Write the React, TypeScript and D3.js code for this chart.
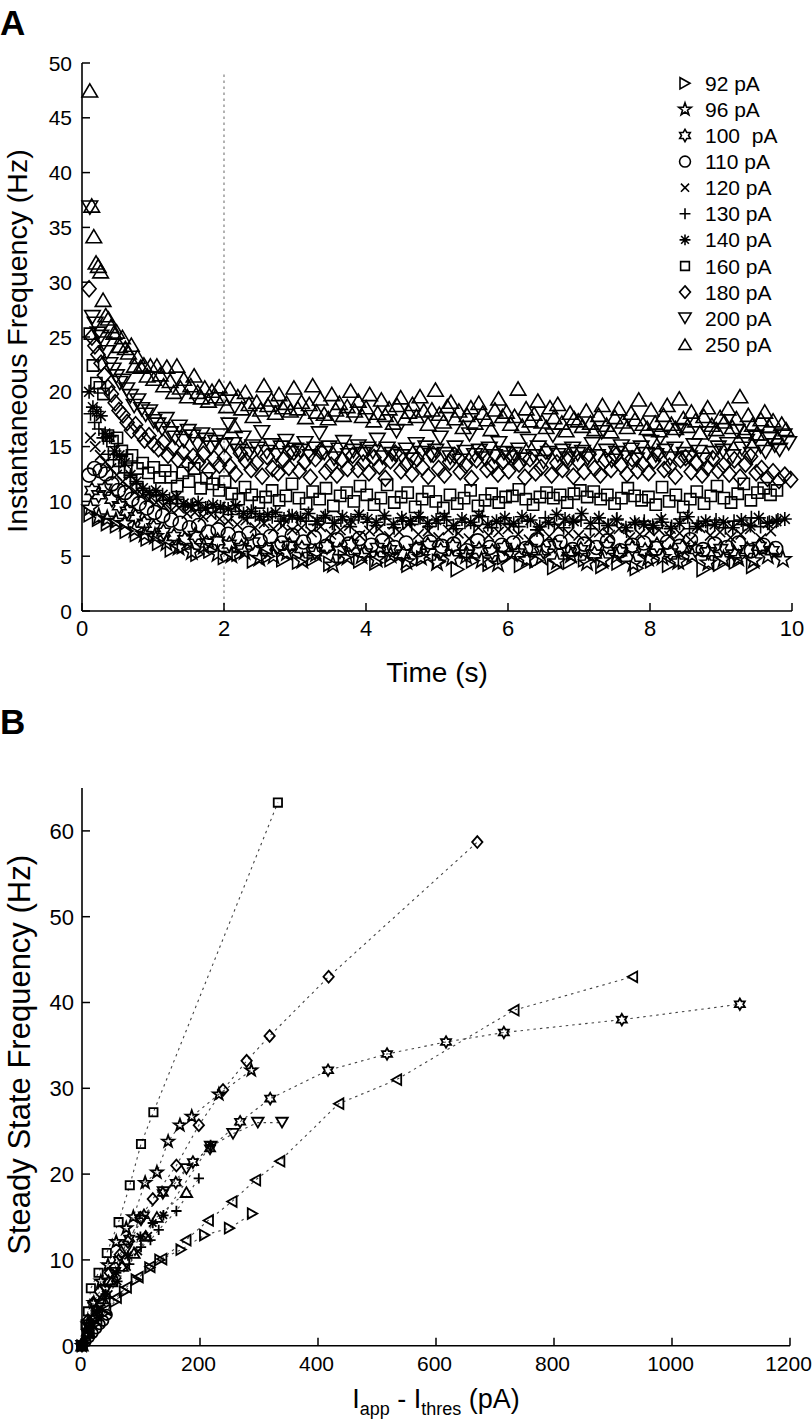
import React from 'react';
import * as d3 from 'd3';

// ---------------- Panel A data (instantaneous frequency, Hz; one value per spike) ----------------
const legendLabels = ['92 pA', '96 pA', '100  pA', '110 pA', '120 pA', '130 pA', '140 pA', '160 pA', '180 pA', '200 pA', '250 pA'];
const legendMarkers = ['right', 'pent', 'hex', 'circle', 'x', 'plus', 'star', 'square', 'diamond', 'down', 'up'];
// time of first plotted spike (s)
const firstSpike = [0.12, 0.12, 0.14, 0.1, 0.12, 0.12, 0.1, 0.11, 0.1, 0.11, 0.11];

const f92 = [8.8, 8.4, 8.0, 7.8, 7.3, 7.0, 6.6, 6.2, 5.6, 5.9, 5.2, 5.5, 4.9, 5.2, 4.6, 5.0, 4.7, 4.5, 4.8, 4.3, 4.9, 4.6, 4.4, 4.7, 4.2, 4.8, 4.5, 3.8, 4.6, 4.3, 4.9, 4.2, 4.6, 4.0, 4.5, 4.7, 4.1, 4.4, 3.9, 4.6, 4.2, 4.5, 3.8, 4.3, 4.5, 4.1];
const f96 = [9.4, 8.6, 8.4, 8.2, 8.0, 7.4, 7.0, 6.8, 6.2, 5.8, 5.4, 5.9, 5.2, 5.1, 5.4, 4.8, 5.0, 5.3, 4.6, 5.2, 4.2, 4.9, 5.0, 4.7, 5.1, 4.5, 4.9, 4.4, 4.8, 5.0, 4.6, 4.3, 5.2, 4.7, 4.9, 4.5, 5.1, 4.4, 4.6, 5.0, 4.3, 4.8, 4.9, 4.5, 5.1, 4.4, 4.7, 4.8, 4.6, 5.0, 4.7];
const f100 = [11.0, 10.6, 11.2, 10.2, 9.6, 9.1, 8.6, 8.0, 7.6, 7.2, 6.8, 6.5, 6.9, 6.2, 6.4, 6.1, 5.8, 6.3, 5.6, 5.9, 6.0, 5.7, 5.4, 5.9, 5.5, 6.1, 5.3, 5.8, 5.6, 5.2, 5.7, 6.0, 5.5, 5.9, 5.2, 5.6, 5.4, 5.8, 5.3, 5.7, 5.5, 6.0, 5.4, 5.6, 5.2, 5.9, 5.4, 5.7, 5.5, 6.0, 5.3, 5.8, 5.6, 5.4, 5.7, 5.2, 5.6, 5.9, 5.5];
const f110 = [12.4, 13.0, 12.8, 12.5, 11.6, 11.0, 10.8, 10.2, 9.8, 9.4, 9.0, 8.7, 8.3, 8.0, 7.6, 7.8, 7.2, 7.4, 7.0, 6.6, 7.1, 6.4, 6.8, 6.2, 6.9, 6.3, 6.7, 5.9, 6.5, 6.1, 6.6, 6.0, 6.4, 5.8, 6.2, 5.6, 6.3, 5.9, 6.1, 5.5, 6.4, 5.8, 6.0, 6.2, 5.7, 6.5, 5.9, 6.3, 5.6, 6.1, 5.8, 6.4, 5.5, 6.0, 6.2, 5.7, 6.3, 5.9, 6.5, 5.6, 6.1, 5.8, 6.2, 5.5, 6.0, 5.7];
const f120 = [15.8, 15.0, 14.2, 13.6, 13.0, 12.4, 11.8, 11.3, 10.9, 10.6, 10.2, 9.9, 9.6, 9.2, 9.4, 8.9, 9.0, 8.6, 8.8, 8.4, 8.2, 7.9, 8.3, 7.6, 8.0, 7.5, 7.8, 7.4, 7.6, 7.2, 7.7, 7.0, 7.4, 7.8, 6.9, 7.3, 7.5, 6.8, 7.2, 7.9, 7.0, 7.3, 6.7, 7.4, 7.1, 6.6, 7.6, 6.9, 7.2, 7.5, 7.0, 6.5, 7.3, 6.8, 7.7, 7.1, 6.9, 6.6, 7.2, 6.9, 7.5, 6.7, 7.0, 7.3, 7.4, 6.8, 7.1, 6.5, 7.6, 6.9, 7.2, 6.7, 7.0, 7.5, 6.6, 7.3];
const f130 = [18.0, 17.2, 16.6, 15.8, 14.3, 13.8, 13.2, 12.6, 12.2, 11.6, 11.0, 10.6, 10.5, 10.1, 9.8, 10.2, 9.5, 9.7, 9.2, 9.4, 9.0, 9.3, 8.8, 9.1, 8.5, 8.9, 8.3, 8.6, 8.2, 8.7, 8.4, 8.2, 7.9, 8.5, 8.0, 8.3, 7.7, 8.6, 8.1, 7.8, 8.4, 7.6, 8.2, 7.9, 8.5, 7.7, 8.0, 8.3, 7.5, 8.1, 7.8, 8.6, 7.6, 8.0, 7.9, 7.7, 8.2, 7.4, 8.5, 7.9, 7.6, 8.1, 8.3, 7.5, 8.0, 7.8, 8.4, 7.3, 7.9, 8.2, 7.6, 8.1, 7.7, 8.4, 7.5, 8.0, 7.8, 8.3, 7.6, 8.2, 7.9, 8.5, 7.7, 8.1, 8.3];
const f140 = [20.0, 18.6, 18.2, 17.8, 16.2, 15.9, 14.6, 14.2, 13.5, 12.4, 11.8, 11.2, 10.8, 11.0, 10.6, 10.2, 10.4, 9.8, 9.6, 9.9, 9.4, 9.7, 9.5, 9.3, 9.6, 8.9, 9.1, 8.6, 8.8, 9.0, 8.4, 8.7, 8.5, 8.9, 8.2, 8.7, 8.0, 8.6, 8.3, 8.8, 8.4, 8.1, 8.7, 7.9, 8.5, 8.2, 8.6, 8.0, 8.3, 8.6, 7.8, 8.4, 8.1, 8.7, 7.9, 8.2, 8.5, 8.0, 8.6, 8.3, 7.7, 8.1, 8.8, 8.4, 8.2, 8.9, 8.0, 8.5, 7.8, 8.3, 7.6, 8.1, 7.9, 7.8, 8.4, 7.5, 8.0, 8.6, 7.7, 8.2, 7.9, 8.1, 7.6, 8.3, 7.8, 8.5, 8.0, 8.2, 8.4];
const f160 = [25.3, 22.4, 20.8, 20.4, 19.8, 16.0, 15.5, 15.8, 14.6, 13.8, 14.2, 13.0, 13.5, 12.6, 13.1, 12.2, 12.8, 12.2, 11.4, 12.6, 11.8, 13.0, 11.2, 12.1, 11.6, 11.0, 11.8, 10.7, 10.2, 11.3, 10.6, 9.9, 10.4, 11.0, 10.1, 10.5, 11.6, 10.3, 9.8, 10.9, 10.2, 11.2, 9.6, 10.5, 10.8, 10.0, 11.4, 10.6, 9.7, 10.3, 11.5, 9.9, 10.4, 10.8, 9.5, 10.2, 10.9, 10.0, 9.4, 10.6, 9.8, 10.3, 11.0, 9.6, 10.1, 10.7, 9.9, 10.4, 10.5, 11.1, 10.2, 9.7, 10.4, 10.8, 10.3, 10.6, 9.9, 10.7, 11.0, 10.4, 10.9, 10.2, 10.6, 9.8, 10.3, 11.2, 10.5, 10.1, 10.4, 9.7, 11.3, 10.0, 10.6, 9.5, 10.2, 10.9, 9.8, 10.5, 11.4, 10.3, 9.9, 10.7, 11.6, 10.1, 10.8, 11.2, 10.6, 11.0];
const f180 = [29.4, 25.0, 24.2, 23.4, 22.6, 21.5, 20.4, 19.8, 19.0, 18.3, 17.9, 17.2, 16.5, 17.0, 16.2, 15.6, 16.0, 15.2, 14.8, 15.4, 14.2, 14.9, 13.8, 14.5, 13.4, 14.1, 13.6, 14.3, 12.8, 13.9, 13.3, 14.0, 13.2, 12.5, 14.4, 13.7, 12.9, 13.5, 12.3, 14.1, 13.0, 12.6, 13.8, 13.1, 14.5, 12.8, 13.6, 12.2, 13.9, 14.6, 12.7, 13.3, 12.4, 13.8, 13.0, 14.2, 12.9, 13.5, 12.6, 14.0, 13.2, 12.1, 13.7, 14.4, 12.8, 13.4, 12.5, 13.9, 13.1, 12.3, 14.3, 13.0, 12.4, 13.6, 14.2, 12.7, 13.3, 12.1, 13.8, 14.5, 12.9, 13.2, 12.5, 13.7, 12.8, 14.1, 13.4, 12.2, 13.9, 12.6, 13.1, 14.6, 12.4, 13.5, 12.9, 13.7, 12.3, 13.6, 12.7, 14.3, 13.0, 12.4, 13.8, 12.9, 14.2, 13.3, 12.5, 13.9, 12.8, 13.4, 12.6, 13.7, 14.4, 12.9, 13.2, 12.3, 13.8, 14.0, 12.7, 13.5, 12.4, 13.1, 13.9, 12.8, 13.3, 12.5, 13.8, 12.2, 13.4, 14.1, 12.6, 13.0, 12.1, 12.7, 11.9, 12.4, 12.0];
const f200 = [36.8, 26.8, 26.2, 25.3, 25.0, 24.4, 23.6, 22.5, 22.0, 21.4, 20.8, 21.0, 20.2, 19.6, 18.7, 19.2, 18.4, 17.9, 18.2, 17.3, 17.0, 16.6, 17.5, 16.2, 15.8, 16.8, 15.5, 16.4, 15.9, 15.2, 16.1, 15.6, 14.9, 15.4, 16.0, 15.1, 17.0, 15.2, 14.6, 15.8, 14.3, 15.0, 14.8, 16.3, 14.5, 15.1, 14.2, 14.9, 15.5, 14.4, 14.7, 14.6, 15.3, 14.1, 14.8, 16.2, 14.4, 14.9, 13.9, 14.7, 15.4, 14.2, 14.6, 15.0, 14.3, 14.8, 14.5, 15.6, 14.0, 14.8, 14.3, 16.4, 14.1, 14.7, 13.8, 15.2, 14.4, 14.9, 14.2, 14.6, 15.8, 14.3, 14.0, 14.9, 13.7, 14.5, 16.1, 14.2, 14.6, 13.9, 14.8, 14.1, 15.3, 14.4, 14.0, 14.3, 14.7, 13.8, 15.5, 14.1, 14.9, 13.6, 14.4, 16.0, 14.2, 14.6, 13.9, 14.8, 14.3, 14.5, 13.9, 15.2, 14.1, 16.3, 14.6, 13.7, 14.4, 15.0, 14.0, 14.7, 13.8, 14.9, 14.3, 15.4, 14.2, 15.8, 14.6, 13.9, 14.8, 16.5, 14.3, 14.0, 15.1, 14.5, 13.8, 16.2, 14.4, 14.9, 14.6, 15.2, 14.1, 16.4, 14.8, 15.5, 14.3, 15.9, 15.0, 14.5, 15.7, 15.1, 14.7, 16.0, 15.3];
const f250 = [47.5, 37.0, 34.2, 31.8, 31.5, 31.0, 28.4, 27.0, 26.7, 26.0, 25.4, 25.5, 24.2, 25.0, 24.0, 23.6, 24.3, 22.4, 23.2, 22.3, 22.5, 21.5, 22.4, 21.2, 22.4, 21.6, 20.6, 22.3, 21.0, 20.0, 22.4, 20.4, 21.2, 19.6, 20.6, 21.5, 20.0, 19.5, 20.4, 19.2, 20.1, 19.6, 20.5, 19.4, 18.7, 20.3, 16.9, 19.6, 18.5, 20.0, 18.9, 17.8, 19.1, 18.4, 20.6, 18.8, 19.3, 18.1, 19.8, 18.6, 19.0, 18.3, 20.4, 18.5, 19.1, 17.7, 18.9, 20.6, 18.2, 19.4, 18.0, 17.6, 19.8, 18.4, 19.0, 17.9, 18.7, 20.1, 18.3, 19.2, 17.8, 18.6, 19.8, 17.4, 18.1, 19.3, 17.9, 18.5, 17.2, 18.8, 19.5, 17.6, 18.2, 18.9, 17.8, 19.6, 18.3, 17.1, 18.4, 20.2, 18.0, 17.3, 18.7, 19.1, 17.6, 18.3, 16.8, 17.9, 18.6, 17.2, 19.0, 18.1, 17.5, 16.6, 18.4, 19.4, 17.8, 18.2, 17.1, 17.8, 20.3, 16.9, 18.5, 17.4, 18.0, 19.2, 17.3, 16.8, 18.6, 17.7, 18.9, 17.2, 16.5, 18.1, 17.6, 17.4, 16.9, 18.3, 17.2, 16.6, 17.9, 18.8, 17.0, 16.4, 17.7, 18.5, 17.3, 16.8, 18.1, 17.5, 19.3, 17.1, 16.7, 18.4, 17.2, 16.5, 17.9, 18.8, 17.1, 16.7, 19.4, 17.6, 16.9, 18.2, 17.4, 16.3, 17.8, 18.6, 17.0, 16.6, 17.7, 17.3, 18.5, 16.8, 17.6, 19.6, 16.4, 17.9, 17.0, 16.2, 17.5, 18.2, 16.9, 17.4, 15.8, 17.1, 16.6];
const freqSeries = [f92, f96, f100, f110, f120, f130, f140, f160, f180, f200, f250];

const xTicksA = [0, 2, 4, 6, 8, 10];
const yTicksA = [0, 5, 10, 15, 20, 25, 30, 35, 40, 45, 50];
const markerTime = 2;

// ---------------- Panel B data ([Iapp - Ithres (pA), steady state frequency (Hz)]) ----------------
const bSquare = [[0, 0], [6, 2.5], [10, 4], [15, 6.7], [28, 8.5], [42, 10.8], [62, 14.4], [81, 18.7], [100, 23.5], [121, 27.2], [332, 63.3]];
const bDiamond = [[2, 0.3], [10, 3], [19, 5], [30, 6.3], [47, 8.5], [64, 10.6], [78, 12.1], [99, 14.9], [120, 17.1], [160, 21], [198, 25.7], [239, 29.8], [279, 33.2], [318, 36.1], [418, 43], [670, 58.7]];
const bLeft = [[0, 0.3], [12, 1.6], [25, 3], [40, 4.2], [58, 5.6], [75, 6.8], [95, 8], [115, 9.2], [135, 10.1], [176, 12.3], [214, 14.6], [254, 16.8], [294, 19.3], [335, 21.5], [435, 28.2], [533, 31], [732, 39.1], [933, 43]];
const bHex = [[0, 0], [8, 1.5], [18, 3], [30, 5], [45, 7.5], [62, 10], [80, 12.5], [105, 15.2], [137, 17.8], [159, 19], [188, 21.4], [217, 23], [268, 26.1], [319, 28.8], [417, 32.1], [517, 34], [617, 35.4], [715, 36.5], [915, 38], [1115, 39.8]];
const bPent = [[0, 0], [10, 2.5], [20, 5], [32, 7.5], [44, 9.4], [58, 12.1], [75, 13.7], [87, 15], [107, 19], [127, 20.2], [146, 23.8], [166, 25.7], [186, 26.7], [232, 29.3], [287, 32.1]];
const bDown = [[0, 0], [12, 2], [25, 4], [40, 6.5], [55, 8.5], [75, 11.2], [100, 14.6], [138, 17.9], [177, 20.6], [218, 23.2], [256, 24.7], [298, 26], [339, 26]];
const bUp = [[0, 0], [10, 1.5], [22, 3.5], [35, 5.5], [50, 7.5], [68, 9.3], [88, 10.8], [108, 12.8], [127, 15], [177, 17.9]];
const bPlus = [[0, 0], [12, 1.5], [25, 3.5], [40, 5.5], [60, 7.5], [80, 9.5], [100, 11.5], [116, 12.3], [130, 13.5], [160, 15.7], [198, 19.5]];
const bAst = [[0, 0], [12, 2], [25, 4], [40, 6], [58, 8.5], [78, 10.5], [99, 12.7], [120, 14.3], [138, 15.2], [218, 23.4]];
const bCross = [[0, 0], [8, 1], [18, 2.5], [30, 4], [45, 6], [60, 7.5], [76, 9.2], [95, 11], [112, 12.8]];
const bCircle = [[0, 0], [6, 0.5], [12, 1], [18, 1.5], [24, 2], [30, 2.5], [36, 2.9], [42, 3.6]];
const bRight = [[0, 0], [10, 1.2], [22, 2.5], [38, 3.8], [55, 5.1], [72, 6.3], [92, 7.7], [115, 9.1], [132, 10], [168, 11.2], [208, 12.9], [250, 13.7], [289, 15.4]];
const bSeries = [
  { marker: 'square', pts: bSquare },
  { marker: 'diamond', pts: bDiamond },
  { marker: 'left', pts: bLeft },
  { marker: 'hex', pts: bHex },
  { marker: 'pent', pts: bPent },
  { marker: 'down', pts: bDown },
  { marker: 'up', pts: bUp },
  { marker: 'plus', pts: bPlus },
  { marker: 'star', pts: bAst },
  { marker: 'x', pts: bCross },
  { marker: 'circle', pts: bCircle },
  { marker: 'right', pts: bRight },
];
const xTicksB = [0, 200, 400, 600, 800, 1000, 1200];
const yTicksB = [0, 10, 20, 30, 40, 50, 60];

// ---------------- layout ----------------
const W = 812;
const H = 1426;
const FONT = '"Liberation Sans", Arial, Helvetica, sans-serif';

const xA = d3.scaleLinear().domain([0, 10]).range([82, 792]);
const yA = d3.scaleLinear().domain([0, 50]).range([611, 63]);
const xB = d3.scaleLinear().domain([0, 1200]).range([82, 790]);
const yB = d3.scaleLinear().domain([0, 65]).range([1345.7, 788]);

function starPoly(n: number, outer: number, inner: number): string {
  const pts: string[] = [];
  for (let i = 0; i < 2 * n; i++) {
    const r = i % 2 === 0 ? outer : inner;
    const a = -Math.PI / 2 + (i * Math.PI) / n;
    pts.push(`${(r * Math.cos(a)).toFixed(2)},${(r * Math.sin(a)).toFixed(2)}`);
  }
  return 'M' + pts.join('L') + 'Z';
}

function markerPath(type: string, s: number): string {
  switch (type) {
    case 'up': { const w = 7.8 * s, h = 6.6 * s; return `M0,${-h}L${w},${h}L${-w},${h}Z`; }
    case 'down': { const w = 7.8 * s, h = 6.6 * s; return `M0,${h}L${w},${-h}L${-w},${-h}Z`; }
    case 'right': { const w = 7.2 * s, h = 6.4 * s; return `M${h},0L${-h},${-w}L${-h},${w}Z`; }
    case 'left': { const w = 7.2 * s, h = 6.4 * s; return `M${-h},0L${h},${-w}L${h},${w}Z`; }
    case 'square': { const a = 5.6 * s; return `M${-a},${-a}H${a}V${a}H${-a}Z`; }
    case 'diamond': { const w = 7 * s, h = 8 * s; return `M0,${-h}L${w},0L0,${h}L${-w},0Z`; }
    case 'circle': { const r = 7 * s; return `M${r},0A${r},${r} 0 1,1 ${-r},0A${r},${r} 0 1,1 ${r},0Z`; }
    case 'x': { const a = 5.2 * s; return `M${-a},${-a}L${a},${a}M${-a},${a}L${a},${-a}`; }
    case 'plus': { const a = 7 * s; return `M${-a},0H${a}M0,${-a}V${a}`; }
    case 'star': { const a = 7 * s, d = a * 0.707; return `M${-a},0H${a}M0,${-a}V${a}M${-d},${-d}L${d},${d}M${-d},${d}L${d},${-d}`; }
    case 'pent': return starPoly(5, 8.5 * s, 3.4 * s);
    case 'hex': return starPoly(6, 7.8 * s, 4.5 * s);
    default: return '';
  }
}

function spikeTimes(t0: number, freqs: number[]): number[] {
  const out: number[] = [];
  let t = t0;
  freqs.forEach((f, i) => {
    if (i > 0) t += 1 / f;
    out.push(t);
  });
  return out;
}

const Marker = ({ type, x, y, s, sw }: { type: string; x: number; y: number; s: number; sw: number }) => (
  <path d={markerPath(type, s)} transform={`translate(${x.toFixed(2)},${y.toFixed(2)})`} fill="none" stroke="#000" strokeWidth={sw} strokeLinejoin="miter" />
);

export default function App() {
  const lineB = d3.line<number[]>().x((d) => xB(d[0])).y((d) => yB(d[1]));
  const [aL, aR] = xA.range();
  const [aB, aT] = yA.range();
  const [bL, bR] = xB.range();
  const [bB, bT] = yB.range();

  return (
    <svg width={W} height={H} viewBox={`0 0 ${W} ${H}`} style={{ position: 'absolute', left: 0, top: 0, display: 'block', background: '#fff' }} fontFamily={FONT}>
      <rect x={0} y={0} width={W} height={H} fill="#fff" />
      {/* ---------- Panel A ---------- */}
      <text x={0} y={35} fontSize={35} fontWeight="bold">A</text>
      <line x1={xA(markerTime)} x2={xA(markerTime)} y1={yA(0)} y2={yA(49.2)} stroke="#8a8a8a" strokeWidth={1.3} strokeDasharray="2.5,3.5" />

      {freqSeries.map((fs, si) => {
        const ts = spikeTimes(firstSpike[si], fs);
        return (
          <g key={si}>
            {fs.map((f, i) => (
              <Marker key={i} type={legendMarkers[si]} x={xA(ts[i])} y={yA(f)} s={1} sw={1.6} />
            ))}
          </g>
        );
      })}

      <line x1={aL} x2={aR} y1={aB} y2={aB} stroke="#000" strokeWidth={1.6} />
      <line x1={aL} x2={aL} y1={aB} y2={aT} stroke="#000" strokeWidth={1.6} />
      {yTicksA.map((t) => (
        <g key={t}>
          <line x1={aL} x2={aL + 8} y1={yA(t)} y2={yA(t)} stroke="#000" strokeWidth={1.5} />
          <text x={72} y={yA(t)} dy="0.36em" textAnchor="end" fontSize={21}>{t}</text>
        </g>
      ))}
      {xTicksA.map((t) => (
        <g key={t}>
          <line x1={xA(t)} x2={xA(t)} y1={aB} y2={aB - 8} stroke="#000" strokeWidth={1.5} />
          <text x={xA(t)} y={636} textAnchor="middle" fontSize={22}>{t}</text>
        </g>
      ))}
      <text x={(aL + aR) / 2} y={682} textAnchor="middle" fontSize={28}>Time (s)</text>
      <text transform={`translate(27,${(aB + aT) / 2 + 4}) rotate(-90)`} textAnchor="middle" fontSize={28.5}>Instantaneous Frequency (Hz)</text>

      {legendLabels.map((lab, i) => {
        const cy = 83.3 + i * 26.1;
        return (
          <g key={lab}>
            <Marker type={legendMarkers[i]} x={685} y={cy} s={0.78} sw={1.6} />
            <text x={705} y={cy + 7.5} fontSize={21} style={{ whiteSpace: 'pre' }}>{lab}</text>
          </g>
        );
      })}

      {/* ---------- Panel B ---------- */}
      <text x={0} y={734} fontSize={35} fontWeight="bold">B</text>
      {bSeries.map((s, i) => (
        <path key={'l' + i} d={lineB(s.pts) || ''} fill="none" stroke="#444" strokeWidth={1.1} strokeDasharray="2.5,4" />
      ))}
      {bSeries.map((s, i) => (
        <g key={'m' + i}>
          {s.pts.map((p, j) => (
            <Marker key={j} type={s.marker} x={xB(p[0])} y={yB(p[1])} s={0.74} sw={1.8} />
          ))}
        </g>
      ))}

      <line x1={bL} x2={bR} y1={bB} y2={bB} stroke="#000" strokeWidth={1.6} />
      <line x1={bL} x2={bL} y1={bB} y2={bT} stroke="#000" strokeWidth={1.6} />
      {yTicksB.map((t) => (
        <g key={t}>
          <line x1={bL} x2={bL + 8} y1={yB(t)} y2={yB(t)} stroke="#000" strokeWidth={1.5} />
          <text x={74} y={yB(t)} dy="0.36em" textAnchor="end" fontSize={22}>{t}</text>
        </g>
      ))}
      {xTicksB.map((t) => (
        <g key={t}>
          <line x1={xB(t)} x2={xB(t)} y1={bB} y2={bB - 8} stroke="#000" strokeWidth={1.5} />
          <text x={xB(t) - 1.5} y={1371} textAnchor="middle" fontSize={21}>{t}</text>
        </g>
      ))}
      <text x={(bL + bR) / 2} y={1408} textAnchor="middle" fontSize={27}>
        I<tspan fontSize={18} dy={7}>app</tspan>
        <tspan dy={-7}> - I</tspan>
        <tspan fontSize={18} dy={7}>thres</tspan>
        <tspan dy={-7}> (pA)</tspan>
      </text>
      <text transform={`translate(30,${(bB + bT) / 2 - 12}) rotate(-90)`} textAnchor="middle" fontSize={31}>Steady State Frequency (Hz)</text>
    </svg>
  );
}
